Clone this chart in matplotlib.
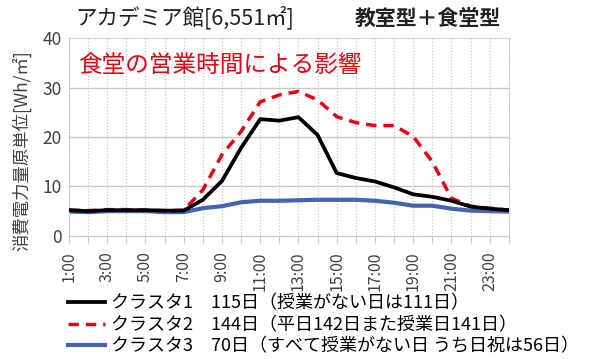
import matplotlib.pyplot as plt

plt.rcParams['font.family'] = ['Noto Sans CJK JP', 'DejaVu Sans']

hours = [f"{h}:00" for h in range(1, 25)]

cluster1 = [5.2, 5.0, 5.2, 5.2, 5.2, 5.1, 5.1, 7.3, 11.1, 17.8, 23.6, 23.3,
            24.0, 20.4, 12.7, 11.7, 11.0, 9.8, 8.4, 7.9, 7.1, 5.9, 5.5, 5.2]
cluster2 = [5.2, 5.1, 5.3, 5.3, 5.2, 5.1, 5.2, 9.3, 16.4, 21.1, 27.1, 28.5,
            29.2, 27.5, 24.1, 22.9, 22.3, 22.3, 20.1, 15.0, 7.6, 6.0, 5.6, 5.2]
cluster3 = [4.9, 4.8, 5.0, 5.0, 5.0, 4.8, 4.8, 5.6, 6.0, 6.8, 7.1, 7.1,
            7.2, 7.3, 7.3, 7.3, 7.1, 6.7, 6.1, 6.1, 5.5, 5.1, 5.0, 4.9]

legend_labels = [
    "クラスタ1　115日（授業がない日は111日）",
    "クラスタ2　144日（平日142日また授業日141日）",
    "クラスタ3　70日（すべて授業がない日 うち日祝は56日）",
]

fig = plt.figure(figsize=(6, 3.59), dpi=100)
ax = fig.add_axes([0.115, 0.343, 0.733, 0.551])

x = list(range(len(hours)))
l1, = ax.plot(x, cluster1, color='black', lw=2.7, zorder=4)
l2, = ax.plot(x, cluster2, color='#e60012', lw=2.5, ls=(0, (3, 2)), zorder=3)
l3, = ax.plot(x, cluster3, color='#4563b0', lw=3.0, zorder=2)

ax.set_xlim(0, len(hours) - 1)
ax.set_ylim(0, 40)
ax.set_yticks([0, 10, 20, 30, 40])
ax.set_xticks(x)
ax.set_xticklabels([h if i % 2 == 0 else "" for i, h in enumerate(hours)],
                   rotation=90, fontsize=11.5, color='#404040')
ax.tick_params(axis='y', length=0, labelsize=12.5, labelcolor='#404040', pad=5)
ax.tick_params(axis='x', length=5, color='#c8c8c8', pad=6)

# grid: solid horizontals, dotted verticals
for yv in [10, 20, 30]:
    ax.axhline(yv, color='#c8c8c8', lw=1, zorder=0)
ax.grid(axis='x', color='#c8c8c8', ls=(0, (1, 1.5)), lw=0.9, zorder=0)
for side in ['top', 'right', 'left']:
    ax.spines[side].set_color('#c8c8c8')
    ax.spines[side].set_linestyle((0, (1, 1.5)))
ax.spines['bottom'].set_color('#c8c8c8')

fig.text(0.036, 0.58, "消費電力量原単位[Wh/㎡]", fontsize=12.5, color='#404040',
         rotation=90, va='center', ha='center')

fig.text(0.125, 0.95, "アカデミア館[6,551㎡]", fontsize=15.5, color='#222222',
         va='center', ha='left')
fig.text(0.835, 0.95, "教室型＋食堂型", fontsize=15, color='#222222',
         va='center', ha='right', fontweight='bold')
ax.text(0.02, 0.86, "食堂の営業時間による影響", transform=ax.transAxes,
        fontsize=17, color='#e60012', va='center', ha='left')

fig.legend([l1, l2, l3], legend_labels, loc='upper left',
           bbox_to_anchor=(0.113, 0.18), frameon=False, fontsize=13,
           handlelength=2.05, handletextpad=0.35, labelspacing=0.2,
           borderaxespad=0, borderpad=0)

fig.savefig("out.png", dpi=100)
